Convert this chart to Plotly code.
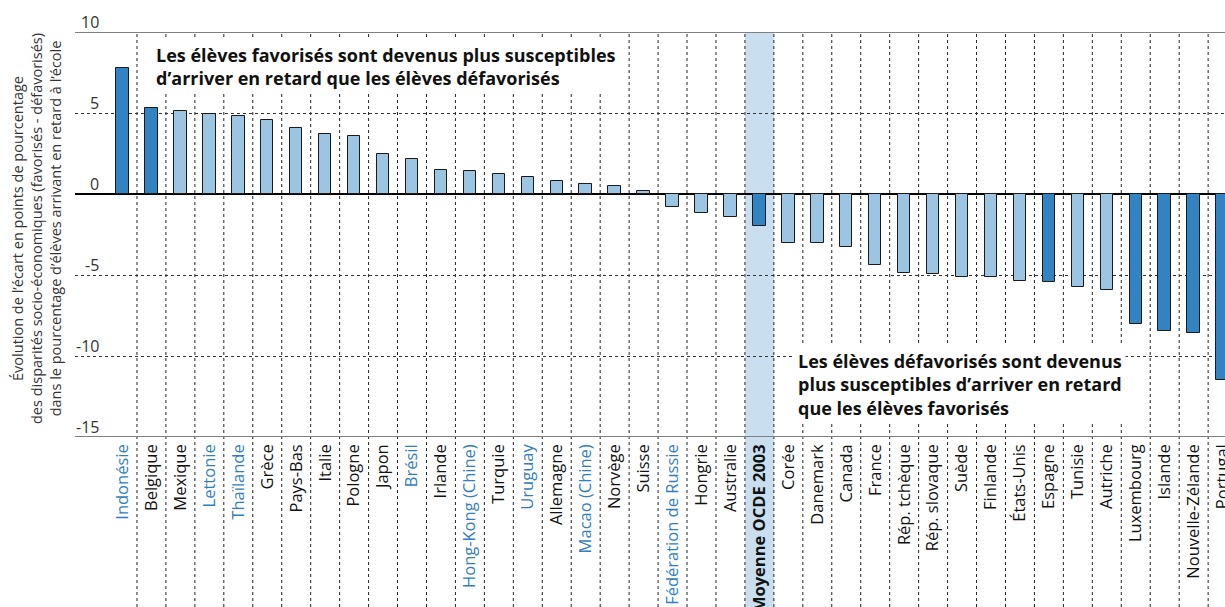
import plotly.graph_objects as go

# Données
pays = ["Indonésie", "Belgique", "Mexique", "Lettonie", "Thaïlande", "Grèce", "Pays-Bas",
        "Italie", "Pologne", "Japon", "Brésil", "Irlande", "Hong-Kong (Chine)", "Turquie",
        "Uruguay", "Allemagne", "Macao (Chine)", "Norvège", "Suisse", "Fédération de Russie",
        "Hongrie", "Australie", "Moyenne OCDE 2003", "Corée", "Danemark", "Canada", "France",
        "Rép. tchèque", "Rép. slovaque", "Suède", "Finlande", "États-Unis", "Espagne",
        "Tunisie", "Autriche", "Luxembourg", "Islande", "Nouvelle-Zélande", "Portugal"]
valeurs = [7.8, 5.3, 5.1, 4.95, 4.8, 4.55, 4.1, 3.7, 3.55, 2.45, 2.15, 1.5, 1.42, 1.25,
           1.05, 0.78, 0.6, 0.5, 0.16, -0.78, -1.15, -1.45, -1.98, -3.0, -3.0, -3.3, -4.4,
           -4.85, -4.95, -5.1, -5.1, -5.4, -5.45, -5.75, -5.95, -8.05, -8.45, -8.6, -11.5]
significatif = ["Indonésie", "Belgique", "Moyenne OCDE 2003", "Espagne", "Luxembourg",
                "Islande", "Nouvelle-Zélande", "Portugal"]
partenaires = ["Indonésie", "Lettonie", "Thaïlande", "Brésil", "Hong-Kong (Chine)",
               "Uruguay", "Macao (Chine)", "Fédération de Russie"]
moyenne = "Moyenne OCDE 2003"
yticks = [10, 5, 0, -5, -10, -15]

FONT = "Open Sans"
BLEU_FONCE = "#3283C2"
BLEU_CLAIR = "#9CC4E3"
BLEU_TEXTE = "#2F7EC1"

W, H = 1225, 607
ML, MT, MB = 75, 32, 170
plot_h = H - MT - MB
PAS = 28.95  # largeur d'une catégorie en px

couleurs = [BLEU_FONCE if p in significatif else BLEU_CLAIR for p in pays]


def etiquette(p):
    if p == moyenne:
        return "<b>" + p + "</b>"
    if p in partenaires:
        return "<span style='color:%s'>%s</span>" % (BLEU_TEXTE, p)
    return p


fig = go.Figure()
fig.add_trace(go.Bar(x=list(range(len(pays))), y=valeurs, width=0.43,
                     marker=dict(color=couleurs, line=dict(color="#1a1a1a", width=1)),
                     showlegend=False))

ibas = -MB / plot_h
shapes = []
# bande de la moyenne OCDE
im = pays.index(moyenne)
shapes.append(dict(type="rect", xref="x", yref="paper", x0=im - 0.5, x1=im + 0.5,
                   y0=ibas, y1=1, fillcolor="#C9DFEF", line_width=0, layer="below"))
# lignes verticales pointillées
for i in range(len(pays)):
    shapes.append(dict(type="line", xref="x", yref="paper", x0=i + 0.5, x1=i + 0.5,
                       y0=ibas, y1=1, line=dict(color="#222", width=1, dash="3px,3px"),
                       layer="below"))
# lignes haut / bas
for v in [10, -15]:
    shapes.append(dict(type="line", xref="paper", yref="y", x0=0, x1=1, y0=v, y1=v,
                       line=dict(color="#808080", width=2), layer="above"))

annotations = []
for t in yticks:
    annotations.append(dict(text=str(t), xref="paper", yref="y", x=(101 - ML) / (W - ML),
                            y=t, xanchor="right", yanchor="bottom", yshift=-3,
                            showarrow=False, font=dict(family=FONT, size=16, color="#333")))
annotations.append(dict(
    text="Évolution de l’écart en points de pourcentage<br>des disparités socio-économiques (favorisés - défavorisés)<br>dans le pourcentage d’élèves arrivant en retard à l’école",
    xref="paper", yref="paper", x=-(ML - 37) / (W - ML), y=(H - MB - 229) / plot_h,
    textangle=-90, showarrow=False, xanchor="center", yanchor="middle",
    font=dict(family=FONT, size=14.5, color="#333")))
annotations.append(dict(
    text="<b>Les élèves favorisés sont devenus plus susceptibles<br>d’arriver en retard que les élèves défavorisés</b>",
    xref="paper", yref="paper", x=(152 - ML) / (W - ML), y=(H - MB - 39) / plot_h,
    xanchor="left", yanchor="top", align="left", showarrow=False, bgcolor="white",
    borderpad=3, font=dict(family=FONT, size=18, color="#111")))
annotations.append(dict(
    text="<b>Les élèves défavorisés sont devenus<br>plus susceptibles d’arriver en retard<br>que les élèves favorisés</b>",
    xref="paper", yref="paper", x=(794 - ML) / (W - ML), y=(H - MB - 345) / plot_h,
    xanchor="left", yanchor="top", align="left", showarrow=False, bgcolor="white",
    borderpad=3, font=dict(family=FONT, size=18, color="#111")))

x0 = (ML - 122.5) / PAS
x1 = x0 + (W - ML) / PAS

fig.update_layout(
    width=W, height=H, margin=dict(l=ML, r=0, t=MT, b=MB, autoexpand=False),
    plot_bgcolor="rgba(0,0,0,0)", paper_bgcolor="white",
    font=dict(family=FONT, size=15, color="#111"),
    shapes=shapes, annotations=annotations, bargap=0,
    xaxis=dict(range=[x0, x1], tickmode="array", tickvals=list(range(len(pays))),
               ticktext=[etiquette(p) for p in pays], tickangle=-90, showgrid=False,
               zeroline=False, showline=False, ticks="", automargin=False,
               ticklabeloverflow="allow", ticklabelstandoff=3,
               tickfont=dict(size=16.5)),
    yaxis=dict(range=[-15, 10], tickmode="array", tickvals=[5, -5, -10],
               showticklabels=False, showgrid=True, gridcolor="#333", gridwidth=1,
               griddash="3px,3px", zeroline=True, zerolinecolor="#000",
               zerolinewidth=1.5, showline=False, ticks="", automargin=False),
)

fig.write_html("out.html", config={"displayModeBar": False},
               post_script="document.body.style.margin='0';")
